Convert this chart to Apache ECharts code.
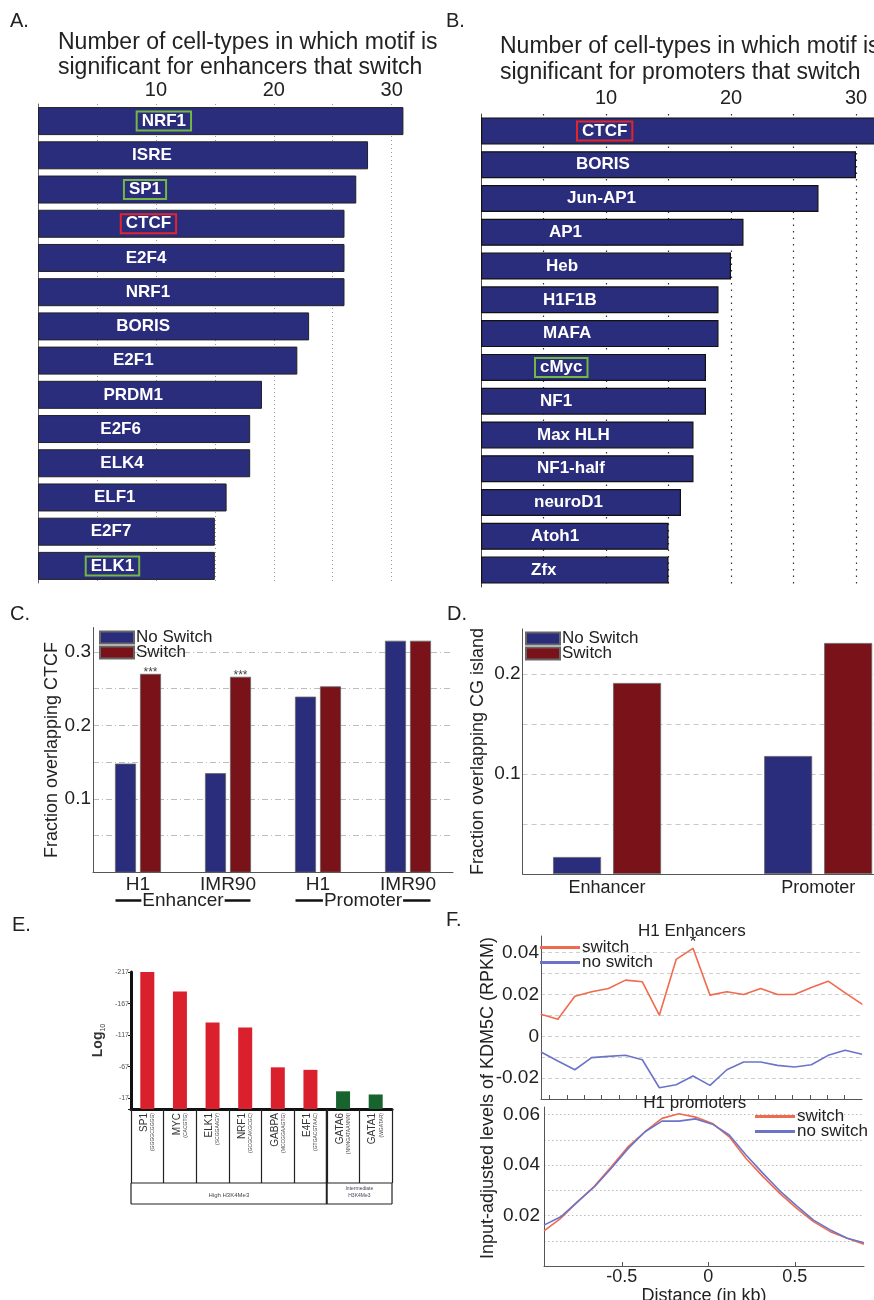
<!DOCTYPE html>
<html><head><meta charset="utf-8">
<script src="https://cdn.jsdelivr.net/npm/echarts@6/dist/echarts.min.js"></script>
<style>html,body{margin:0;padding:0;background:#fff}#c{width:874px;height:1300px}</style>
</head><body><div id="c"></div><script>
// ---------- DATA ----------
// Panel A
const enhMotifs = ['NRF1','ISRE','SP1','CTCF','E2F4','NRF1','BORIS','E2F1','PRDM1','E2F6','ELK4','ELF1','E2F7','ELK1'];
const enhCounts = [31,28,27,26,26,26,23,22,19,18,18,16,15,15];
const enhBox    = ['green','','green','red','','','','','','','','','','green'];
const aTicks = [10,20,30];
// Panel B
const promMotifs = ['CTCF','BORIS','Jun-AP1','AP1','Heb','H1F1B','MAFA','cMyc','NF1','Max HLH','NF1-half','neuroD1','Atoh1','Zfx'];
const promCounts = [32,30,27,21,20,19,19,18,18,17,17,16,15,15];
const promBox    = ['red','','','','','','','green','','','','','',''];
const bTicks = [10,20,30];
// Panel C
const ctcfCells = ['H1','IMR90','H1','IMR90'];
const ctcfRegions = ['Enhancer','Promoter'];
const ctcfNoSwitch = [0.148,0.135,0.239,0.315];
const ctcfSwitch   = [0.270,0.266,0.253,0.315];
const ctcfSig = ['***','***','',''];
const cTicks = [0.1,0.2,0.3];
// Panel D
const cgiCats = ['Enhancer','Promoter'];
const cgiNoSwitch = [0.017,0.118];
const cgiSwitch   = [0.191,0.231];
const dTicks = [0.1,0.2];
// Panel E
const eMotifs = ['SP1','MYC','ELK1','NRF1','GABPA','E4F1','GATA6','GATA1'];
const eConsensus = ['(GGGGCGGGG)','(CACGTG)','(SCGGAAGY)','(GCGCAKGCGC)','(MCCGGAAGTG)','(GTGACGTAAC)','(NNNGATAANNN)','(WGATAR)'];
const eLog10 = [-217,-186,-137,-129,-66,-62,-28,-23];
const eLevel = ['High','High','High','High','High','High','Intermediate','Intermediate'];
const eTicks = [-217,-167,-117,-67,-17];
// Panel F
const fDist = [-0.95,-0.853,-0.755,-0.658,-0.561,-0.463,-0.366,-0.268,-0.171,-0.074,0.024,0.121,0.218,0.316,0.413,0.511,0.608,0.705,0.803,0.9];
const fEnhSwitch   = [0.0106,0.0082,0.0192,0.0213,0.0229,0.0269,0.0261,0.0101,0.0368,0.0421,0.0197,0.0213,0.0200,0.0229,0.0200,0.0200,0.0234,0.0264,0.0208,0.0154];
const fEnhNoSwitch = [-0.0075,-0.0118,-0.0160,-0.0102,-0.0096,-0.0091,-0.0112,-0.0246,-0.0232,-0.0190,-0.0235,-0.0160,-0.0123,-0.0123,-0.0139,-0.0147,-0.0136,-0.0091,-0.0067,-0.0086];
const fEnhSig = ['','','','','','','','','','*','','','','','','','','','',''];
const fPromSwitch   = [0.0139,0.0189,0.0255,0.0317,0.0393,0.0473,0.0532,0.0585,0.0603,0.0590,0.0565,0.0512,0.0426,0.0354,0.0288,0.0228,0.0176,0.0136,0.0110,0.0086];
const fPromNoSwitch = [0.0162,0.0195,0.0255,0.0314,0.0387,0.0466,0.0532,0.0574,0.0574,0.0583,0.0562,0.0519,0.0440,0.0367,0.0298,0.0238,0.0182,0.0143,0.0110,0.0092];
const fTopTicks = [-0.9,-0.8,-0.7,-0.6,-0.5,-0.4,-0.3,-0.2,-0.1,0,0.1,0.2,0.3,0.4,0.5,0.6,0.7,0.8];
const fTicks = [-0.5,0,0.5];
const fEnhYTicks = [-0.02,0,0.02,0.04];
const fPromYTicks = [0.02,0.04,0.06];

// ---------- STYLE ----------
const FF = "'Liberation Sans', Arial, Helvetica, sans-serif";
const NAVY = '#2a2c7c', MAROON = '#7a1219', ERED = '#da1f2d', EGREEN = '#17642f';
const ORANGE = '#f06a4e', LBLUE = '#6b74c8';
const BOXC = {green:'#72b843', red:'#e3242b'};
const inT = (v, list) => list.some(t => Math.abs(t - v) < 1e-9);
const fmt = (v, list, d) => inT(v, list) ? (Math.abs(v) < 1e-12 ? '0' : v.toFixed(d)) : '';
const grid = (o) => Object.assign({outerBoundsMode:'none', containLabel:false}, o);
const axLine = (c) => ({show:true, onZero:false, lineStyle:{color:c||'#555', width:1}});

const chart = echarts.init(document.getElementById('c'), null, {renderer:'canvas', width:874, height:1300});

const barLabel = (boxKind) => boxKind ? {borderColor: BOXC[boxKind], borderWidth: 2} : {};
const legendBase = (o) => Object.assign({orient:'vertical', padding:0, itemGap:-2, icon:'rect',
  textStyle:{fontSize:17, color:'#222', lineHeight:15, fontFamily:FF, padding:[0,0,0,-3]}}, o);

const option = {
  animation: false,
  backgroundColor: '#fff',
  textStyle: {fontFamily: FF},
  grid: [
    grid({left:38, top:104, width:389, height:479}),
    grid({left:481, top:114, width:437.5, height:473}),
    grid({left:93, top:627.5, width:360, height:245}),
    grid({left:522.6, top:629, width:380, height:245}),
    grid({left:131, top:972, width:261, height:137}),
    grid({left:541, top:936, width:321, height:163}),
    grid({left:544, top:1107, width:320, height:159})
  ],
  xAxis: [
    {gridIndex:0, type:'value', position:'top', min:0, max:33, interval:5,
     axisLine:{show:false}, axisTick:{show:false},
     axisLabel:{fontSize:20, color:'#222', margin:4, formatter:v => inT(v,aTicks)? String(v):''},
     splitLine:{show:true, showMinLine:false, showMaxLine:false, lineStyle:{type:[1,3], color:'#9a9a9a', width:1}}},
    {gridIndex:1, type:'value', position:'top', min:0, max:35, interval:5,
     axisLine:{show:false}, axisTick:{show:false},
     axisLabel:{fontSize:20, color:'#222', margin:6, formatter:v => inT(v,bTicks)? String(v):''},
     splitLine:{show:true, showMinLine:false, showMaxLine:false, lineStyle:{type:[1.5,5], color:'#333', width:1.2}}},
    {gridIndex:2, type:'category', data: ctcfCells, axisLine: axLine('#555'), axisTick:{show:false},
     axisLabel:{fontSize:19, color:'#222', margin:3}},
    {gridIndex:3, type:'value', min:0.6, max:2.4, interval:0.2, axisLine: axLine('#555'), axisTick:{show:false},
     splitLine:{show:false},
     axisLabel:{fontSize:18, color:'#222', margin:5, formatter:v => {const k=Math.round(v); return (Math.abs(v-k)<1e-6 && k>=1 && k<=cgiCats.length) ? cgiCats[k-1] : '';}}},
    {gridIndex:4, type:'category', data: eMotifs, axisLine:{show:true, onZero:false, lineStyle:{color:'#111', width:3}},
     axisTick:{show:true, length:74, lineStyle:{color:'#222', width:1.2}},
     axisLabel:{interval:0, rotate:90, margin:4, color:'#333',
       formatter:(v,i) => '{n|' + eMotifs[i] + '}\n{m|' + eConsensus[i] + '}',
       rich:{n:{fontSize:10, lineHeight:11, color:'#333', fontFamily:FF}, m:{fontSize:5, lineHeight:6, color:'#444', fontFamily:FF}}}},
    {gridIndex:5, type:'value', min:-0.95, max:0.9, interval:0.05, axisLine: axLine('#555'),
     axisTick:{show:true, inside:true, length:4, customValues: fTopTicks, lineStyle:{color:'#555'}},
     axisLabel:{show:false}, splitLine:{show:false}},
    {gridIndex:6, type:'value', min:-0.95, max:0.9, interval:0.05, axisLine: axLine('#555'),
     axisTick:{show:true, inside:true, length:4, customValues: fTicks, lineStyle:{color:'#555'}},
     axisLabel:{fontSize:18, color:'#222', margin:2, formatter:v => fmt(v, fTicks, 1)},
     splitLine:{show:false},
     name:'Distance (in kb)', nameLocation:'middle', nameGap:16, nameTextStyle:{fontSize:18, color:'#222'}}
  ],
  yAxis: [
    {gridIndex:0, type:'category', inverse:true, data: enhMotifs, axisLine: axLine('#666'), axisTick:{show:false}, axisLabel:{show:false}},
    {gridIndex:1, type:'category', inverse:true, data: promMotifs, axisLine: axLine('#444'), axisTick:{show:false}, axisLabel:{show:false}},
    {gridIndex:2, type:'value', min:0, max:0.333, interval:0.05, axisLine: axLine('#555'), axisTick:{show:false},
     axisLabel:{fontSize:19, color:'#222', margin:2, formatter:v => fmt(v, cTicks, 1)},
     splitLine:{show:true, showMinLine:false, showMaxLine:false, lineStyle:{type:[6,3,1,3], color:'#bdbdbd'}},
     name:'Fraction overlapping CTCF', nameLocation:'middle', nameGap:20, nameTextStyle:{fontSize:18, color:'#222'}},
    {gridIndex:3, type:'value', min:0, max:0.245, interval:0.05, axisLine: axLine('#555'), axisTick:{show:false},
     axisLabel:{fontSize:19, color:'#222', margin:2, formatter:v => fmt(v, dTicks, 1)},
     splitLine:{show:true, showMinLine:false, showMaxLine:false, lineStyle:{type:[5,4], color:'#c8c8c8'}},
     name:'Fraction overlapping CG island', nameLocation:'middle', nameGap:36, nameTextStyle:{fontSize:18, color:'#222'}},
    {gridIndex:4, type:'value', inverse:true, min:-217, max:0, interval:50,
     axisLine:{show:true, onZero:false, lineStyle:{color:'#111', width:3}},
     axisTick:{show:true, length:3, lineStyle:{color:'#222'}},
     axisLabel:{fontSize:7, color:'#555', margin:2, formatter:v => inT(v,eTicks)? String(v):''},
     splitLine:{show:false},
     name:'{a|Log}{b|10}', nameLocation:'middle', nameGap:24,
     nameTextStyle:{rich:{a:{fontSize:14, fontWeight:'bold', color:'#333', fontFamily:FF, lineHeight:18}, b:{fontSize:7, color:'#333', fontFamily:FF, verticalAlign:'bottom', lineHeight:18}}}},
    {gridIndex:5, type:'value', min:-0.03, max:0.048, interval:0.01, axisLine: axLine('#555'), axisTick:{show:false},
     axisLabel:{fontSize:19, color:'#222', margin:2, formatter:v => fmt(v, fEnhYTicks, 2)},
     splitLine:{show:true, showMinLine:false, showMaxLine:false, lineStyle:{type:[4,3], color:'#cfcfcf'}}},
    {gridIndex:6, type:'value', min:0, max:0.063, interval:0.01, axisLine: axLine('#555'), axisTick:{show:false},
     axisLabel:{fontSize:19, color:'#222', margin:4, formatter:v => fmt(v, fPromYTicks, 2)},
     splitLine:{show:true, showMinLine:false, showMaxLine:false, lineStyle:{type:[1.5,2.5], color:'#bbb'}}}
  ],
  legend: [
    legendBase({left:99, top:629, itemWidth:34, itemHeight:12, data:['No Switch','Switch']}),
    legendBase({left:525, top:630, itemWidth:34, itemHeight:12, data:['No Switch','Switch']}),
    legendBase({left:540, top:939, itemWidth:40, itemHeight:3, data:['switch','no switch']}),
    legendBase({left:755, top:1108, itemWidth:40, itemHeight:3, data:['switch','no switch']})
  ],
  series: [
    {type:'bar', xAxisIndex:0, yAxisIndex:0, barWidth:28,
     data: enhCounts.map((v,i) => ({value:v, label: barLabel(enhBox[i])})),
     itemStyle:{color:NAVY, borderColor:'#222', borderWidth:1},
     label:{show:true, position:['27%','50%'], align:'left', verticalAlign:'middle', color:'#fff', fontWeight:'bold',
            fontSize:17, fontFamily:FF, padding:[1,5], formatter:p => enhMotifs[p.dataIndex]}},
    {type:'bar', xAxisIndex:1, yAxisIndex:1, barWidth:27,
     data: promCounts.map((v,i) => ({value:v, label: barLabel(promBox[i])})),
     itemStyle:{color:NAVY, borderColor:'#111', borderWidth:1.2},
     label:{show:true, position:['24%','50%'], align:'left', verticalAlign:'middle', color:'#fff', fontWeight:'bold',
            fontSize:17, fontFamily:FF, padding:[1,5], formatter:p => promMotifs[p.dataIndex]}},
    {name:'No Switch', type:'bar', xAxisIndex:2, yAxisIndex:2, barWidth:21, barGap:'19%', data: ctcfNoSwitch,
     itemStyle:{color:NAVY, borderColor:'#666', borderWidth:0.8}},
    {name:'Switch', type:'bar', xAxisIndex:2, yAxisIndex:2, barWidth:21, barGap:'19%', data: ctcfSwitch,
     itemStyle:{color:MAROON, borderColor:'#666', borderWidth:0.8},
     label:{show:true, position:'top', distance:-5, fontSize:12, color:'#444', formatter:p => ctcfSig[p.dataIndex]}},
    {name:'No Switch', type:'bar', xAxisIndex:3, yAxisIndex:3, barWidth:48, barGap:'25%',
     data: cgiNoSwitch.map((v,i) => [i+1, v]),
     itemStyle:{color:NAVY, borderColor:'#666', borderWidth:0.8}},
    {name:'Switch', type:'bar', xAxisIndex:3, yAxisIndex:3, barWidth:48, barGap:'25%',
     data: cgiSwitch.map((v,i) => [i+1, v]),
     itemStyle:{color:MAROON, borderColor:'#666', borderWidth:0.8}},
    {type:'bar', xAxisIndex:4, yAxisIndex:4, barWidth:14,
     data: eLog10.map((v,i) => ({value:v, itemStyle:{color: eLevel[i]==='High' ? ERED : EGREEN}}))},
    {name:'switch', type:'line', xAxisIndex:5, yAxisIndex:5, data: fDist.map((x,i) => [x, fEnhSwitch[i]]),
     symbol:'circle', symbolSize:1, showSymbol:true, lineStyle:{color:ORANGE, width:1.6}, itemStyle:{color:ORANGE},
     label:{show:true, position:'top', distance:-3, fontSize:17, color:'#222', formatter:p => fEnhSig[p.dataIndex]}},
    {name:'no switch', type:'line', xAxisIndex:5, yAxisIndex:5, data: fDist.map((x,i) => [x, fEnhNoSwitch[i]]),
     symbol:'none', lineStyle:{color:LBLUE, width:1.6}, itemStyle:{color:LBLUE}},
    {name:'switch', type:'line', xAxisIndex:6, yAxisIndex:6, data: fDist.map((x,i) => [x, fPromSwitch[i]]),
     symbol:'none', lineStyle:{color:ORANGE, width:1.6}, itemStyle:{color:ORANGE}},
    {name:'no switch', type:'line', xAxisIndex:6, yAxisIndex:6, data: fDist.map((x,i) => [x, fPromNoSwitch[i]]),
     symbol:'none', lineStyle:{color:LBLUE, width:1.6}, itemStyle:{color:LBLUE}}
  ]
};
chart.setOption(option);

// ---------- annotations (positions derived from axes) ----------
const ctx = document.createElement('canvas').getContext('2d');
function tw(text, size){ ctx.font = size + 'px ' + FF; return ctx.measureText(text).width; }
function T(text, x, y, size, o){ o = o || {}; return {type:'text', x:x, y:y, rotation:o.rot||0, silent:true, z:100,
  style:{text:text, fontSize:size, fontFamily:FF, fill:o.fill||'#222', align:o.align||'left', verticalAlign:o.va||'middle', fontWeight:o.weight||'normal', lineHeight:o.lh}}; }
function L(x1,y1,x2,y2,w,c){ return {type:'line', silent:true, z:100, shape:{x1:x1,y1:y1,x2:x2,y2:y2}, style:{stroke:c||'#111', lineWidth:w||1}}; }

const g = [];
// panel letters & titles
g.push(T('A.', 10, 21, 20));
g.push(T('Number of cell-types in which motif is', 58, 43, 23));
g.push(T('significant for enhancers that switch', 58, 68, 23));
g.push(T('B.', 446, 21, 20));
g.push(T('Number of cell-types in which motif is', 500, 47, 23));
g.push(T('significant for promoters that switch', 500, 73, 23));
g.push(T('C.', 10, 614, 20));
g.push(T('D.', 447, 614, 20));
g.push(T('E.', 12, 925, 20));
g.push(T('F.', 446, 920, 20));

// Panel C region labels under category pairs
const cx = i => chart.convertToPixel({xAxisIndex:2}, i);
const cBase = chart.convertToPixel({yAxisIndex:2}, 0);
ctcfRegions.forEach((r, k) => {
  const a = cx(2*k), b = cx(2*k+1);
  const half = (b - a) / 2;
  const mid = (a + b) / 2, y = cBase + 28;
  const w = tw(r, 19);
  g.push(T(r, mid, y, 19, {align:'center'}));
  g.push(L(a - half*0.5, y, mid - w/2 - 1, y, 2.5));
  g.push(L(mid + w/2 + 1, y, b + half*0.5, y, 2.5));
});

// Panel E table
const ex = i => chart.convertToPixel({xAxisIndex:4}, i);
const band = ex(1) - ex(0);
const eL = ex(0) - band/2, eR = ex(eMotifs.length-1) + band/2;
const lastHigh = eLevel.lastIndexOf('High');
const eG = ex(lastHigh) + band/2;
const eY = chart.convertToPixel({yAxisIndex:4}, 0);
const y1 = eY + 74, y2 = eY + 95;
g.push(L(eL, y1, eR, y1, 1.2, '#222'));
g.push(L(eL, y2, eR, y2, 1.2, '#222'));
g.push(L(eL, y1, eL, y2, 1.2, '#222'));
g.push(L(eG, eY, eG, y2, 2, '#222'));
g.push(L(eR, y1, eR, y2, 1.2, '#222'));
g.push(T('High H3K4Me3', (eL+eG)/2, y1 + 12, 6, {align:'center', fill:'#444'}));
g.push(T('Intermediate\nH3K4Me3', (eG+eR)/2, y1 + 9, 5, {align:'center', fill:'#445', lh:7}));

// Panel F titles and shared y label
const fx0 = chart.convertToPixel({xAxisIndex:5}, 0);
g.push(T('H1 Enhancers', fx0 - 14, 931, 17, {align:'center'}));
g.push(T('H1 promoters', fx0 - 11, 1103, 17, {align:'center'}));
g.push(T('Input-adjusted levels of KDM5C (RPKM)', 488, 1098, 18, {align:'center', rot:Math.PI/2}));

chart.setOption({graphic: g});
</script></body></html>
